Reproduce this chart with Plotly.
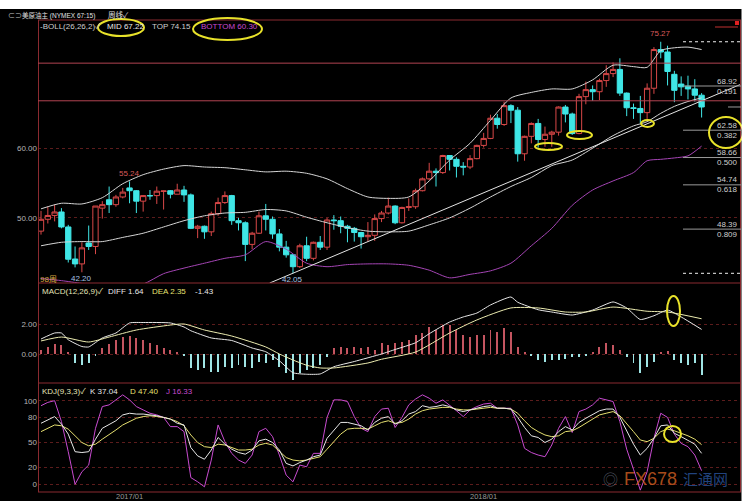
import pandas as pd
import plotly.graph_objects as go

# ---------------- data: WTI main contract, weekly ----------------
dates = pd.date_range("2016-10-03", periods=98, freq="7D")

opens = [48.1, 49.8, 50.35, 50.85, 48.7, 44.1, 43.4, 46.4, 45.9, 51.4,
         52.6, 51.9, 53.0, 54.3, 53.9, 52.4, 53.2, 53.2, 53.8, 53.9,
         53.4, 54.0, 53.3, 48.5, 48.8, 48.0, 50.6, 52.2, 53.2, 49.6,
         49.3, 46.2, 47.8, 50.3, 49.8, 47.7, 45.8, 44.7, 43.0, 46.0,
         44.2, 46.5, 45.8, 49.7, 49.6, 48.8, 48.5, 47.9, 47.3, 47.5,
         49.9, 50.7, 51.7, 49.3, 51.5, 51.6, 53.9, 55.6, 56.7, 56.5,
         58.95, 58.4, 57.4, 57.3, 58.5, 60.4, 61.4, 64.3, 63.4, 66.1,
         65.45, 59.2, 61.7, 63.55, 61.25, 62.0, 62.3, 65.9, 64.9, 62.1,
         67.4, 68.4, 68.1, 69.7, 70.7, 71.3, 67.9, 65.8, 65.7, 65.1,
         68.6, 74.15, 73.8, 70.6, 69.2, 68.9, 68.5, 67.6]
highs = [51.0, 51.6, 51.9, 51.4, 49.0, 45.9, 46.5, 48.9, 51.7, 52.4,
         54.5, 53.3, 54.3, 55.24, 54.0, 53.1, 54.0, 54.5, 53.9, 54.0,
         54.9, 54.6, 53.5, 49.0, 48.9, 50.9, 52.9, 53.8, 53.3, 50.0,
         49.5, 48.0, 50.9, 52.0, 50.2, 48.4, 46.7, 44.8, 46.3, 47.3,
         46.6, 47.4, 50.0, 50.4, 50.2, 49.0, 48.7, 48.0, 49.4, 50.5,
         51.0, 52.9, 51.8, 51.6, 52.8, 54.2, 55.8, 57.9, 57.1, 59.05,
         59.0, 58.7, 58.0, 59.0, 60.5, 62.2, 64.8, 64.9, 66.66, 66.3,
         65.9, 61.8, 63.7, 64.2, 63.1, 62.5, 66.0, 66.2, 65.1, 67.8,
         69.56, 69.0, 69.97, 71.9, 72.3, 72.9, 68.0, 66.4, 67.5, 69.3,
         74.5, 75.27, 74.7, 71.1, 70.3, 70.4, 69.9, 67.9]
lows = [47.6, 49.2, 49.5, 48.5, 43.6, 42.9, 42.2, 45.4, 44.8, 49.9,
        50.7, 51.6, 52.8, 52.1, 50.7, 50.9, 52.6, 52.0, 51.2, 52.8,
        53.4, 52.3, 48.4, 47.1, 47.0, 47.4, 50.3, 52.0, 49.0, 48.2,
        43.8, 45.5, 47.7, 48.2, 47.0, 45.2, 44.3, 42.05, 42.8, 43.8,
        43.9, 45.4, 45.4, 48.3, 47.8, 46.5, 46.6, 45.6, 46.6, 46.7,
        49.4, 50.5, 49.1, 49.2, 51.0, 51.3, 53.8, 55.4, 54.5, 56.3,
        56.8, 55.8, 56.1, 57.0, 58.4, 60.1, 61.3, 62.8, 63.2, 63.6,
        58.07, 58.2, 60.7, 60.1, 60.2, 60.2, 61.8, 63.7, 61.9, 62.0,
        66.3, 66.8, 66.9, 68.8, 70.2, 67.5, 64.6, 64.2, 63.6, 64.2,
        67.8, 72.9, 69.0, 66.6, 67.5, 67.0, 66.7, 64.4]
closes = [49.8, 50.35, 50.85, 48.7, 44.07, 43.4, 45.7, 45.9, 51.7, 51.9,
          51.9, 53.0, 53.7, 53.9, 52.4, 53.2, 53.17, 53.83, 53.86, 53.4,
          54.0, 53.3, 48.5, 48.8, 48.0, 50.6, 52.2, 53.2, 49.6, 49.3,
          46.2, 47.8, 50.3, 49.8, 47.7, 45.8, 44.7, 43.0, 46.0, 44.2,
          46.5, 45.8, 49.7, 49.6, 48.8, 48.5, 47.9, 47.3, 47.5, 49.9,
          50.7, 51.7, 49.3, 51.5, 51.6, 53.9, 55.6, 56.7, 56.5, 58.95,
          58.4, 57.4, 57.3, 58.5, 60.4, 61.4, 64.3, 63.4, 66.1, 65.45,
          59.2, 61.7, 63.55, 61.25, 62.0, 62.3, 65.9, 64.9, 62.1, 67.4,
          68.4, 68.1, 69.7, 70.7, 71.3, 67.9, 65.8, 65.7, 65.1, 68.6,
          74.15, 73.8, 71.0, 68.3, 68.8, 68.5, 67.6, 65.91]

# Bollinger band (26,26,2) values at selected weeks
boll_idx = [0, 3, 6, 9, 12, 15, 18, 21, 24, 27, 30, 33, 36, 39, 42, 45, 48,
            51, 54, 57, 60, 63, 66, 69, 72, 75, 78, 81, 84, 87, 89, 91, 93, 95, 97]
boll_top = [51.3, 52.1, 52.0, 52.9, 54.9, 56.2, 57.0, 57.5, 57.3, 57.2, 56.9,
            56.6, 56.7, 56.4, 55.6, 54.2, 53.0, 52.8, 53.0, 55.3, 58.3, 60.7,
            64.0, 67.2, 68.0, 68.5, 68.5, 69.8, 71.9, 71.7, 71.6, 74.0, 74.4,
            74.5, 74.15]
boll_mid = [46.0, 46.5, 46.6, 46.6, 47.2, 47.8, 48.7, 49.6, 50.3, 50.7, 50.8,
            51.2, 51.0, 50.1, 49.3, 48.6, 48.1, 48.0, 48.1, 49.0, 50.0, 51.4,
            53.0, 54.5, 55.8, 57.5, 58.3, 60.0, 61.8, 63.2, 63.8, 65.0, 66.0,
            66.7, 67.22]
boll_bot = [41.3, 41.0, 40.6, 40.3, 40.0, 40.5, 42.0, 42.8, 43.5, 44.2, 44.7,
            46.6, 45.5, 43.5, 43.0, 43.3, 43.4, 43.4, 43.2, 42.5, 41.4, 41.9,
            42.4, 43.5, 46.0, 48.5, 51.8, 54.0, 55.3, 56.5, 58.2, 58.4, 58.6,
            58.9, 60.30]

# support line drawn from the 42.05 low
trend_dates = ["2017-05-26", "2018-09-22"]
trend_vals = [40.65, 69.15]

# drawn horizontal reference lines
ref_lines = [72.2, 66.8]

# Fibonacci retracement of the 75.27 / 42.05 swing
fib_levels = [68.92, 62.58, 58.66, 54.74, 48.39]
fib_ratios = ["0.191", "0.382", "0.500", "0.618", "0.809"]
swing_high, swing_low = 75.27, 42.05

# MACD(12,26,9)
diff_idx = [0, 2, 3, 4, 6, 7, 9, 11, 13, 15, 19, 21, 22, 25, 28, 31, 33, 35, 37,
            39, 41, 43, 46, 50, 52, 55, 57, 60, 62, 64, 66, 69, 70, 73, 75, 78,
            81, 84, 86, 88, 90, 92, 94, 97]
diff_val = [1.0, 1.4, 1.4, 0.95, 0.5, 0.47, 1.07, 1.4, 2.07, 2.1, 2.07, 1.8,
            1.55, 1.07, 0.9, 0.4, 0.15, -0.45, -1.25, -1.35, -1.33, -0.85, -0.5,
            0.0, 0.3, 0.75, 1.35, 2.13, 2.47, 2.73, 3.27, 3.8, 3.45, 2.95, 2.8,
            2.6, 2.93, 3.47, 3.07, 2.3, 2.55, 2.93, 2.47, 1.64]
dea_idx = [0, 3, 7, 10, 14, 19, 21, 24, 28, 33, 35, 37, 39, 41, 43, 48, 50, 55,
           60, 64, 69, 73, 77, 80, 84, 89, 92, 97]
dea_val = [0.87, 1.13, 0.8, 1.13, 1.6, 1.93, 2.0, 1.6, 1.2, 0.47, 0.0, -0.4,
           -0.75, -0.93, -0.93, -0.6, -0.35, 0.13, 1.4, 2.27, 3.07, 3.07, 2.8,
           2.8, 3.13, 2.85, 2.8, 2.35]
macd_hist = [0.27, 0.49, 0.67, 0.6, 0.15, -0.62, -0.73, -0.62, -0.07, 0.38,
             0.67, 0.93, 1.16, 1.2, 1.04, 0.93, 0.71, 0.6, 0.38, 0.27,
             0.16, -0.07, -0.96, -1.07, -0.96, -1.2, -1.18, -0.84, -0.96, -0.73,
             -0.84, -0.96, -0.51, -0.62, -0.4, -0.89, -1.29, -1.73, -1.29, -1.07,
             -0.96, -0.73, -0.18, 0.38, 0.49, 0.38, 0.49, 0.38, 0.49, 0.27,
             0.71, 0.6, 0.71, 0.82, 0.93, 1.27, 1.38, 1.82, 1.6, 1.93,
             1.93, 1.6, 1.27, 1.16, 1.27, 1.27, 1.6, 1.49, 1.71, 1.49,
             0.49, 0.16, -0.07, -0.4, -0.51, -0.4, -0.4, -0.36, -0.22, -0.18,
             -0.13, 0.16, 0.49, 0.71, 0.6, 0.27, -0.18, -0.62, -1.29, -0.84,
             -0.51, 0.16, 0.22, -0.4, -0.62, -0.73, -0.62, -1.43]

# KDJ(9,3,3)
kdj_k = [73, 77, 81, 72, 60, 39, 38, 39, 54, 67,
         71, 76, 83, 85, 84, 84, 83, 82, 80, 78,
         73, 71, 44, 34, 30, 41, 56, 48, 42, 38,
         36, 41, 52, 54, 50, 41, 25, 22, 26, 29,
         33, 35, 55, 64, 74, 74, 72, 70, 65, 74,
         79, 81, 72, 76, 84, 87, 94, 92, 93, 95,
         93, 89, 87, 89, 91, 93, 94, 91, 91, 90,
         80, 68, 58, 56, 50, 54, 63, 69, 65, 74,
         79, 84, 88, 90, 90, 80, 63, 48, 35, 43,
         55, 70, 71, 61, 57, 52, 48, 37.04]
kdj_d = [63, 67, 71, 70, 66, 58, 50, 46, 48, 54,
         59, 65, 71, 75, 79, 81, 82, 81, 80, 78,
         75, 70, 59, 50, 45, 44, 48, 47, 44, 41,
         41, 42, 47, 49, 47, 40, 32, 29, 28, 29,
         31, 33, 42, 51, 60, 66, 67, 67, 66, 70,
         74, 76, 73, 74, 78, 84, 88, 90, 91, 92,
         92, 90, 89, 89, 90, 91, 92, 91, 91, 90,
         85, 76, 68, 63, 59, 57, 58, 63, 64, 68,
         73, 78, 83, 85, 87, 82, 73, 63, 53, 51,
         55, 63, 66, 64, 61, 58, 54, 47.40]
kdj_j = [94, 98, 100, 75, 39, 0, 15, 23, 67, 93,
         95, 101, 107, 101, 93, 89, 85, 83, 80, 69,
         69, 63, 8, 3, -3, 29, 71, 51, 37, 29,
         25, 35, 63, 67, 57, 35, 11, 3, 23, 21,
         37, 37, 80, 101, 101, 99, 81, 67, 63, 81,
         90, 91, 68, 80, 95, 102, 107, 103, 97, 101,
         95, 88, 81, 89, 93, 96, 97, 91, 91, 91,
         71, 43, 38, 35, 33, 47, 67, 81, 62, 87,
         90, 95, 103, 101, 99, 75, 42, 18, -7, 15,
         55, 85, 80, 60, 49, 45, 35, 16.33]

x_ticks = ["2017-01-02", "2018-01-01"]
x_ticktext = ["2017/01", "2018/01"]

# ---------------- styling ----------------
W, H = 745, 501
FONT = "Liberation Sans, Noto Sans CJK SC, sans-serif"
UP, DOWN = "#d94848", "#3fe6e6"
BAND, LOWBAND = "#d6d6d6", "#a545b5"
BORDER, REFRED, GRID = "#8a2a30", "#b24452", "#5c1c1c"
YEL, MAG, WHITE, GREY = "#e6e070", "#c84bd0", "#e8e8e8", "#b4b4b4"
CIRCLE = "#e8e22a"


def fx(px):
    return px / W


def fy(py):
    return 1 - py / H


def at(idx):
    return [dates[i] for i in idx]


fig = go.Figure()

# price panel
fig.add_trace(go.Candlestick(
    x=dates, open=opens, high=highs, low=lows, close=closes,
    increasing=dict(line=dict(color=UP, width=1), fillcolor="#000000"),
    decreasing=dict(line=dict(color=DOWN, width=1), fillcolor=DOWN),
    whiskerwidth=0, hoverinfo="skip", showlegend=False, xaxis="x", yaxis="y"))
for vals, col in ((boll_top, BAND), (boll_mid, BAND), (boll_bot, LOWBAND)):
    fig.add_trace(go.Scatter(x=at(boll_idx), y=vals, mode="lines",
                             line=dict(color=col, width=1, shape="spline", smoothing=0.7),
                             hoverinfo="skip", showlegend=False, xaxis="x", yaxis="y"))
fig.add_trace(go.Scatter(x=pd.to_datetime(trend_dates), y=trend_vals, mode="lines",
                         line=dict(color="#e4e4e4", width=1), hoverinfo="skip",
                         showlegend=False, xaxis="x", yaxis="y"))

# MACD panel
fig.add_trace(go.Bar(x=dates, y=macd_hist,
                     marker=dict(color=["#c45560" if v >= 0 else "#9fe4e4" for v in macd_hist],
                                 line=dict(width=0)),
                     width=1.0 * 86400000, hoverinfo="skip", showlegend=False,
                     xaxis="x", yaxis="y2"))
fig.add_trace(go.Scatter(x=at(diff_idx), y=diff_val, mode="lines",
                         line=dict(color=WHITE, width=1, shape="spline", smoothing=0.5),
                         hoverinfo="skip", showlegend=False, xaxis="x", yaxis="y2"))
fig.add_trace(go.Scatter(x=at(dea_idx), y=dea_val, mode="lines",
                         line=dict(color="#ececb0", width=1, shape="spline", smoothing=0.6),
                         hoverinfo="skip", showlegend=False, xaxis="x", yaxis="y2"))

# KDJ panel
for vals, col in ((kdj_j, MAG), (kdj_d, YEL), (kdj_k, WHITE)):
    fig.add_trace(go.Scatter(x=dates, y=vals, mode="lines",
                             line=dict(color=col, width=1), hoverinfo="skip",
                             showlegend=False, xaxis="x", yaxis="y3"))

x_range = [dates[0] - pd.Timedelta(days=3.1), dates[0] + pd.Timedelta(days=719.5)]
axis_font = dict(family=FONT, size=8, color=GREY)
yax = dict(showline=False, zeroline=False, ticks="", showgrid=True, gridcolor=GRID,
           griddash="dot", gridwidth=1, tickfont=axis_font, fixedrange=True)

fig.update_layout(
    width=W, height=H, autosize=False,
    margin=dict(l=0, r=0, t=0, b=0, pad=0),
    paper_bgcolor="#000000", plot_bgcolor="#000000",
    font=dict(family=FONT, size=8, color=GREY),
    hovermode=False, bargap=0, boxgap=0.22, boxgroupgap=0,
    xaxis=dict(domain=[fx(38), fx(741)], range=x_range, anchor="y3",
               showgrid=False, zeroline=False, showline=False, ticks="",
               showticklabels=False, rangeslider=dict(visible=False)),
    yaxis=dict(domain=[fy(283), fy(20)], range=[40.66, 78.39], anchor="x",
               tickvals=[50, 60], ticktext=["50.00", "60.00"], **yax),
    yaxis2=dict(domain=[fy(383), fy(283)], range=[-1.933, 4.733], anchor="x",
                tickvals=[0, 2], ticktext=["0.00", "2.00"], **yax),
    yaxis3=dict(domain=[fy(492), fy(383)], range=[-9.21, 121.17], anchor="x",
                tickvals=[0, 20, 50, 80, 100], ticktext=["0", "20", "50", "80", "100"], **yax),
)

shapes = []
# panel frames
for py in (20, 283, 383, 492):
    shapes.append(dict(type="line", xref="paper", yref="paper", x0=fx(38), x1=fx(741),
                       y0=fy(py), y1=fy(py), line=dict(color=BORDER, width=1)))
for px in (38.5, 740.5):
    shapes.append(dict(type="line", xref="paper", yref="paper", x0=fx(px), x1=fx(px),
                       y0=fy(20), y1=fy(492), line=dict(color=BORDER, width=1)))
# drawn reference lines
for v in ref_lines:
    shapes.append(dict(type="line", xref="paper", yref="y", x0=fx(38), x1=fx(741),
                       y0=v, y1=v, line=dict(color=REFRED, width=1)))
# Fibonacci ticks on the right
for v in fib_levels:
    shapes.append(dict(type="line", xref="paper", yref="y", x0=fx(683), x1=fx(741),
                       y0=v, y1=v, line=dict(color="#9a9a9a", width=1)))
# swing extremes and last close
for v in (swing_high, swing_low):
    shapes.append(dict(type="line", xref="paper", yref="y", x0=fx(683), x1=fx(741),
                       y0=v, y1=v, line=dict(color="#f0f0f0", width=1, dash="dot")))
shapes.append(dict(type="line", xref="paper", yref="y", x0=fx(728), x1=fx(741),
                   y0=closes[-1], y1=closes[-1], line=dict(color="#9a9a9a", width=1)))
shapes.append(dict(type="line", xref="paper", yref="paper", x0=fx(715), x1=fx(738),
                   y0=fy(27), y1=fy(27), line=dict(color="#c03030", width=1)))
shapes.append(dict(type="rect", xref="paper", yref="paper", x0=fx(735), x1=fx(739),
                   y0=fy(25), y1=fy(21), line=dict(width=0), fillcolor="#e02020"))
# highlight ellipses
for (a, b, c, d) in [(98, 19, 144, 36), (193, 18, 262, 40), (535, 143, 562, 150),
                     (567, 131, 592, 139), (641, 120, 654, 127), (709, 117, 743, 148),
                     (667, 296, 680, 326), (664, 426, 681, 442)]:
    shapes.append(dict(type="circle", xref="paper", yref="paper", x0=fx(a), x1=fx(c),
                       y0=fy(d), y1=fy(b), line=dict(color=CIRCLE, width=2)))
# white edges of the capture
shapes.append(dict(type="rect", xref="paper", yref="paper", x0=0, x1=1, y0=fy(9), y1=1,
                   line=dict(width=0), fillcolor="#ffffff", layer="above"))
shapes.append(dict(type="rect", xref="paper", yref="paper", x0=fx(741.5), x1=1, y0=0, y1=1,
                   line=dict(width=0), fillcolor="#ffffff", layer="above"))
fig.update_layout(shapes=shapes)


def label(text, px, py, color, size=8, anchor="left"):
    fig.add_annotation(text=text, x=fx(px), y=fy(py), xref="paper", yref="paper",
                       showarrow=False, xanchor=anchor, yanchor="middle",
                       font=dict(family=FONT, size=size, color=color))


# header rows
label("⊂⊃", 6, 15, "#c8c8c8", 7)
label("美原油主 (NYMEX 67:15)", 20, 15, "#e0e0e0", 6.5)
label("周线✓", 106, 15, "#e0e0e0", 7.5)
label("-BOLL(26,26,2)✓", 38, 27, "#cfcfcf")
label(f"MID {boll_mid[-1]:.2f}", 105, 27, WHITE)
label(f"TOP {boll_top[-1]:.2f}", 150, 27, "#cfcfcf")
label(f"BOTTOM {boll_bot[-1]:.2f}", 199, 27, MAG)
label("MACD(12,26,9)✓", 40, 291, "#e4e4b8")
label(f"DIFF {diff_val[-1]:.2f}", 106, 291, WHITE)
label(f"DEA {dea_val[-1]:.2f}", 150, 291, YEL)
label(f"{macd_hist[-1]:.2f}", 193, 291, WHITE)
label("KDJ(9,3,3)✓", 40, 391, "#e4e4b8")
label(f"K {kdj_k[-1]:.2f}", 88, 391, WHITE)
label(f"D {kdj_d[-1]:.2f}", 128, 391, YEL)
label(f"J {kdj_j[-1]:.2f}", 164, 391, MAG)
label("98周", 38, 279, "#d9a540")

# extreme price labels
for i, v, shift, col in ((13, highs[13], 8, "#d85a5a"), (91, highs[91], 8, "#d85a5a"),
                         (6, lows[6], -6, "#a8c4e4"), (37, lows[37], -6, "#a8c4e4")):
    fig.add_annotation(text=f"{v:.2f}", x=dates[i], y=v, xref="x", yref="y", yshift=shift,
                       showarrow=False, font=dict(family=FONT, size=8, color=col))

# Fibonacci labels
for v, r in zip(fib_levels, fib_ratios):
    for txt, sh in ((f"{v:.2f}", 5), (r, -5)):
        fig.add_annotation(text=txt, x=fx(740), y=v, xref="paper", yref="y", yshift=sh,
                           xanchor="right", yanchor="middle", showarrow=False,
                           font=dict(family=FONT, size=8, color="#cfcfcf"))

# date labels
for d, t in zip(x_ticks, x_ticktext):
    fig.add_annotation(text=t, x=pd.Timestamp(d), y=fy(496.5), xref="x", yref="paper",
                       showarrow=False, yanchor="middle",
                       font=dict(family=FONT, size=7.5, color="#9a9a9a"))

# watermark
label("◎", 601, 479, "rgba(140,150,170,0.55)", 15)
label("FX678", 622, 479, "rgba(214,96,34,0.8)", 18)
label("汇通网", 681, 479, "rgba(40,80,150,0.85)", 15)

fig.write_html("out.html")
